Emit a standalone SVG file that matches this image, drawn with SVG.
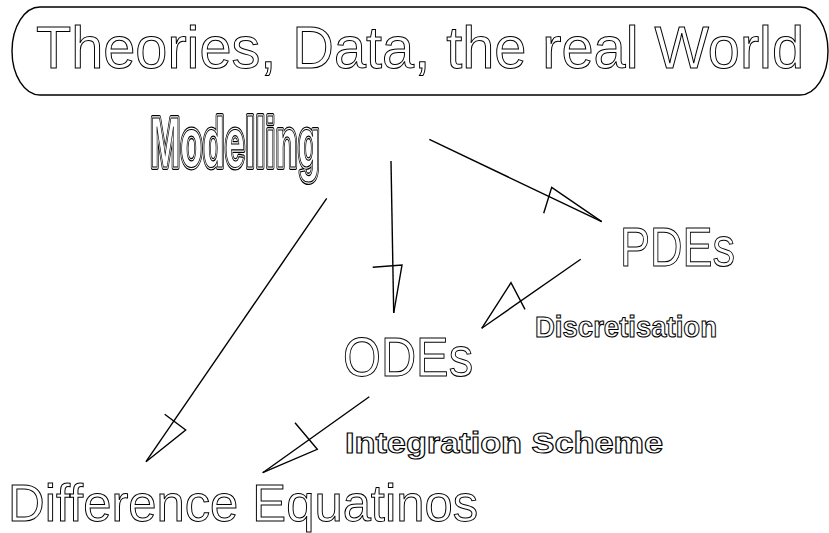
<svg xmlns="http://www.w3.org/2000/svg" width="829" height="533" viewBox="0 0 829 533">
<style>
  .t { font-family: "Liberation Sans", Arial, sans-serif; fill: #fff; stroke: #000; stroke-width: 1; }
  .b { font-weight: bold; stroke-width: 1.1; }
  .mo { font-family: "Liberation Sans Narrow", "Liberation Sans", Arial, sans-serif; font-weight: bold; font-size: 70px; }
  .mo1 { fill: #000; stroke: #000; stroke-width: 6; stroke-linejoin: round; }
  .mo2 { fill: #fff; stroke: #fff; stroke-width: 3.4; stroke-linejoin: round; }
  .mo3 { fill: #fff; stroke: #000; stroke-width: 1.2; }
  .c { fill: none; stroke: #000; stroke-width: 1.4; stroke-linejoin: miter; }
</style>
<rect width="829" height="533" fill="#fff"/>
<g id="world">
  <path d="M40,7 H800 A28,44 0 0 1 828,51 A28,44 0 0 1 800,95 H40 A28,44 0 0 1 12,51 A28,44 0 0 1 40,7 Z" fill="#fff" stroke="#000" stroke-width="1.4"/>
  <text class="t" x="36" y="68" font-size="59" textLength="768" lengthAdjust="spacingAndGlyphs">Theories, Data, the real World</text>
</g>
<g id="modelling">
  <text class="mo mo1" x="150" y="167" textLength="170" lengthAdjust="spacingAndGlyphs">Modelling</text>
  <text class="mo mo2" x="150" y="167" textLength="170" lengthAdjust="spacingAndGlyphs">Modelling</text>
  <text class="mo mo3" x="150" y="167" textLength="170" lengthAdjust="spacingAndGlyphs">Modelling</text>
</g>
<g id="pdes">
  <text class="t" x="620" y="266" font-size="55" textLength="115" lengthAdjust="spacingAndGlyphs">PDEs</text>
</g>
<g id="odes">
  <text class="t" x="343" y="376" font-size="55" textLength="130" lengthAdjust="spacingAndGlyphs">ODEs</text>
</g>
<g id="difference">
  <text class="t" x="8" y="521" font-size="52" textLength="470" lengthAdjust="spacingAndGlyphs">Difference Equatinos</text>
</g>
<g id="discretisation">
  <text class="t b" x="535" y="337" font-size="30" textLength="182" lengthAdjust="spacingAndGlyphs">Discretisation</text>
</g>
<g id="integration">
  <text class="t b" x="345" y="453" font-size="30" textLength="318" lengthAdjust="spacingAndGlyphs">Integration Scheme</text>
</g>
<g id="connectors">
  <line class="c" x1="429.3" y1="139.3" x2="601.7" y2="221.7"/>
  <polyline class="c" points="601.7,221.7 551.7,187.3 543.7,213.3"/>
  <line class="c" x1="391" y1="161" x2="393.7" y2="313"/>
  <polyline class="c" points="393.7,313 402,265 372.7,267.3"/>
  <line class="c" x1="326.7" y1="198.3" x2="146" y2="461.7"/>
  <polyline class="c" points="146,461.7 185.7,430 164.7,414.3"/>
  <line class="c" x1="580.7" y1="259.3" x2="481.7" y2="328.3"/>
  <polyline class="c" points="481.7,328.3 511,282.7 525,309.3"/>
  <line class="c" x1="369.3" y1="396.7" x2="262.7" y2="472.7"/>
  <polyline class="c" points="262.7,472.7 317.3,449.3 295,422.7"/>
</g>
</svg>
